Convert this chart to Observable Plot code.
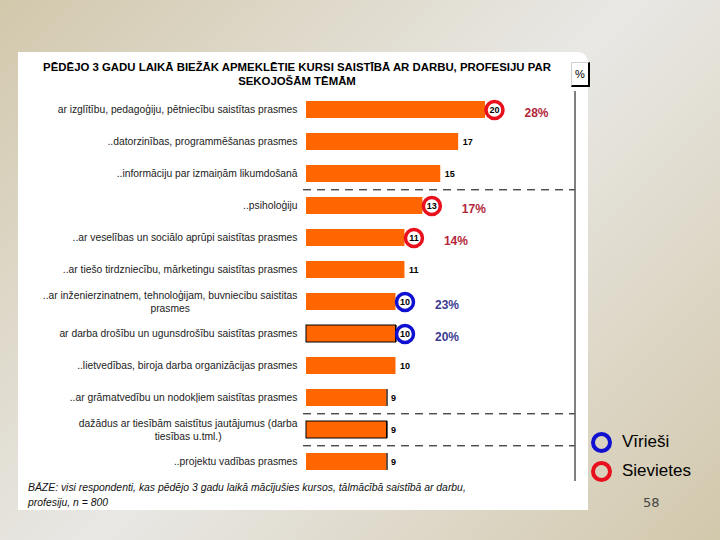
<!DOCTYPE html>
<html><head><meta charset="utf-8">
<script src="https://cdn.jsdelivr.net/npm/d3@7"></script>
<script src="https://cdn.jsdelivr.net/npm/@observablehq/plot@0.6"></script>
<style>
html,body{margin:0;padding:0;}
body{width:720px;height:540px;position:relative;overflow:hidden;
  background:linear-gradient(135deg,#d2c8ac 0%,#e9e8e5 50%,#d2c8ac 100%);
  font-family:"Liberation Sans",Arial,sans-serif;}
#panel{position:absolute;left:18px;top:52px;width:570px;height:458px;background:#fff;border-top-right-radius:10px;}
#title{position:absolute;left:0;width:594px;top:60px;text-align:center;font-weight:bold;font-size:11.4px;line-height:14px;color:#000;}
#chart{position:absolute;left:18px;top:52px;}
#pct{position:absolute;left:571px;top:62px;width:16px;height:22px;background:#fff;border-top:1px solid #d0d0d0;border-left:1px solid #d0d0d0;border-right:2px solid #000;border-bottom:2px solid #000;font-size:11px;line-height:22px;text-align:center;color:#000;}
#foot{position:absolute;left:28px;top:480px;font-style:italic;font-size:10.4px;line-height:15px;color:#111;}
.lg{position:absolute;left:591px;width:13px;height:13px;border-radius:50%;border:4px solid;}
.lt{position:absolute;left:622px;font-size:17px;line-height:18px;color:#000;}
#page{position:absolute;left:643px;top:495px;font-size:13px;color:#444;font-family:"DejaVu Sans",sans-serif;}
</style></head>
<body>
<div id="panel"></div>
<div id="title">PĒDĒJO 3 GADU LAIKĀ BIEŽĀK APMEKLĒTIE KURSI SAISTĪBĀ AR DARBU, PROFESIJU PAR<br>SEKOJOŠĀM TĒMĀM</div>
<div id="chart"></div>
<div id="pct">%</div>
<div id="foot">BĀZE: visi respondenti, kas pēdējo 3 gadu laikā mācījušies kursos, tālmācībā saistībā ar darbu,<br>profesiju, n = 800</div>
<div class="lg" style="top:432px;border-color:#1010d0;"></div>
<div class="lt" style="top:433px;">Vīrieši</div>
<div class="lg" style="top:461px;border-color:#e8101c;"></div>
<div class="lt" style="top:462px;">Sievietes</div>
<div id="page">58</div>
<script>
// ---- data ----
const categories = [
  "ar izglītību, pedagoģiju, pētniecību saistītas prasmes",
  "..datorzinības, programmēšanas prasmes",
  "..informāciju par izmaiņām likumdošanā",
  "..psiholoģiju",
  "..ar veselības un sociālo aprūpi saistītas prasmes",
  "..ar tiešo tirdzniecību, mārketingu saistītas prasmes",
  "..ar inženierzinatnem, tehnoloģijam, buvniecibu saistitas\nprasmes",
  "ar darba drošību un ugunsdrošību saistītas prasmes",
  "..lietvedības, biroja darba organizācijas prasmes",
  "..ar grāmatvedību un nodokļiem saistītas prasmes",
  "dažādus ar tiesībām saistītus jautājumus (darba\ntiesības u.tml.)",
  "..projektu vadības prasmes"
];
const values = [20, 17, 15, 13, 11, 11, 10, 10, 10, 9, 9, 9];
const womenRows = [0, 3, 4];
const womenPct = [28, 17, 14];
const menRows = [6, 7];
const menPct = [23, 20];
const dividerBefore = [3, 10, 11];

// ---- styling ----
const ORANGE = "#ff6600", RED = "#e8101c", BLUE = "#1010d0";
const RED_TXT = "#b3263a", BLUE_TXT = "#3c3c92";
const FONT = "'Liberation Sans', Arial, sans-serif";
const LABEL_SIZE = 10.3;
const outlined = [7, 10];
const rightEdge = [7, 9, 10, 11];

const rows = categories.map((c, i) => ({cat: c, value: values[i], i}));
const circled = new Set([...womenRows, ...menRows]);
const women = womenRows.map((r, k) => ({...rows[r], pct: womenPct[k]}));
const men = menRows.map((r, k) => ({...rows[r], pct: menPct[k]}));
const plain = rows.filter(d => !circled.has(d.i));
const single = rows.filter(d => !d.cat.includes("\n"));
const multi = rows.filter(d => d.cat.includes("\n"));

const ctx = document.createElement("canvas").getContext("2d");
ctx.font = LABEL_SIZE + "px " + FONT;

const multiMarks = multi.flatMap(d => {
  const [l1, l2] = d.cat.split("\n");
  const w = ctx.measureText(l1).width;
  return [
    Plot.text([d], {x: () => 0, y: "cat", text: () => l1, dx: -9, dy: -6.3, textAnchor: "end", fontSize: LABEL_SIZE, fill: "#222"}),
    Plot.text([d], {x: () => 0, y: "cat", text: () => l2, dx: -9 - w / 2, dy: 6.3, textAnchor: "middle", fontSize: LABEL_SIZE, fill: "#222"})
  ];
});

const chart = Plot.plot({
  width: 570, height: 458,
  marginTop: 39, marginBottom: 29, marginLeft: 0, marginRight: 0,
  x: {domain: [0, 20], range: [288, 288 + 20 * 8.95], axis: null},
  y: {domain: categories, axis: null, paddingInner: 0.46, paddingOuter: 0.25},
  style: {background: "transparent", fontFamily: FONT, overflow: "visible"},
  marks: [
    Plot.barX(rows, {x: "value", y: "cat", fill: ORANGE}),
    Plot.barX(rows.filter(d => outlined.includes(d.i)), {x: "value", y: "cat", fill: "none", stroke: "#000", strokeWidth: 1}),
    Plot.tickX(rows.filter(d => rightEdge.includes(d.i)), {x: "value", y: "cat", stroke: "#000", strokeWidth: 1.2}),
    Plot.ruleY(dividerBefore.map(i => rows[i]), {y: "cat", dy: -16.2, x1: -0.33, x2: 30, stroke: "#000", strokeWidth: 1, strokeDasharray: "8,6"}),
    Plot.ruleX([30], {stroke: "#000", strokeWidth: 1}),
    Plot.text(single, {x: () => 0, y: "cat", text: "cat", dx: -9, textAnchor: "end", fontSize: LABEL_SIZE, fill: "#222"}),
    ...multiMarks,
    Plot.text(plain, {x: "value", y: "cat", text: d => String(d.value), dx: 4, textAnchor: "start", fontSize: 9, fontWeight: "bold", fill: "#000"}),
    Plot.dot(women, {x: "value", y: "cat", dx: 9, r: 8.5, stroke: RED, strokeWidth: 3.5, fill: "#fff"}),
    Plot.dot(men, {x: "value", y: "cat", dx: 9, r: 8.5, stroke: BLUE, strokeWidth: 3.5, fill: "#fff"}),
    Plot.text([...women, ...men], {x: "value", y: "cat", text: d => String(d.value), dx: 9, textAnchor: "middle", fontSize: 9, fontWeight: "bold", fill: "#000"}),
    Plot.text(women, {x: "value", y: "cat", text: d => d.pct + "%", dx: 39, dy: 3, textAnchor: "start", fontSize: 12, fontWeight: "bold", fill: RED_TXT}),
    Plot.text(men, {x: "value", y: "cat", text: d => d.pct + "%", dx: 39, dy: 3, textAnchor: "start", fontSize: 12, fontWeight: "bold", fill: BLUE_TXT})
  ]
});
document.getElementById("chart").appendChild(chart);
</script>
</body></html>
